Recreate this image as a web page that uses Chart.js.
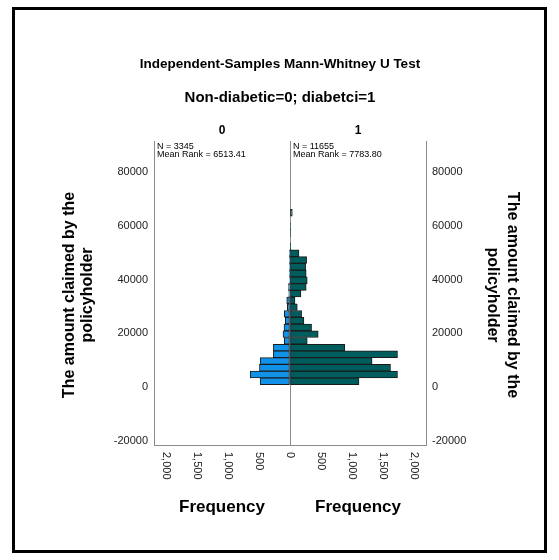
<!DOCTYPE html>
<html>
<head>
<meta charset="utf-8">
<script src="https://cdn.jsdelivr.net/npm/chart.js@4.4.1/dist/chart.umd.min.js"></script>
<style>
  html, body { margin: 0; padding: 0; background: #fff; }
  canvas { display: block; }
</style>
</head>
<body>
<canvas id="c" width="559" height="560"></canvas>
<script>
// Histogram bins of the claim amount (lower edges) and their width
const binStarts = [1000, 3500, 6000, 8500, 11000, 13500, 16000, 18500, 21000, 23500,
                   26000, 28500, 31000, 33500, 36000, 38500, 41000, 43500, 46000, 48500,
                   51000, 53500, 56000, 58500, 61000, 63500];
const binWidth = 2500;

// Frequencies per bin for each group
const freqNonDiabetic = [483, 644, 494, 483, 269, 269, 92, 113, 97, 76,
                         92, 43, 53, 20, 25, 8, 6, 7, 6, 5,
                         0, 0, 0, 0, 0, 0];
const freqDiabetic = [1116, 1739, 1626, 1328, 1739, 886, 279, 456, 349, 225,
                      188, 118, 81, 177, 262, 279, 262, 253, 269, 145,
                      14, 0, 8, 8, 0, 37];

// Group headers and summary statistics
const groupLabels = ['0', '1'];
const groupN = [3345, 11655];
const groupMeanRank = ['6513.41', '7783.80'];

// Axis ticks
const claimTicks = [-20000, 0, 20000, 40000, 60000, 80000];
const freqTicks = [0, 500, 1000, 1500, 2000];

const FONT = '"Liberation Sans", Arial, sans-serif';
const LINE = '#8a8a8a';
const TEXT = '#222';

const binCenters = binStarts.map(s => s + binWidth / 2);

const decorations = {
  id: 'decorations',
  afterDraw(chart) {
    const { ctx, chartArea: a, scales } = chart;
    const xs = scales.x;
    ctx.save();

    // Outer frame
    ctx.strokeStyle = '#000';
    ctx.lineWidth = 3;
    ctx.strokeRect(13.5, 8.5, 532, 543);

    // Titles
    ctx.fillStyle = '#000';
    ctx.textAlign = 'center';
    ctx.textBaseline = 'middle';
    ctx.font = 'bold 13.5px ' + FONT;
    ctx.fillText('Independent-Samples Mann-Whitney U Test', 280, 64);
    ctx.font = 'bold 15px ' + FONT;
    ctx.fillText('Non-diabetic=0; diabetci=1', 280, 98);

    // Panel headers
    const leftMid = xs.getPixelForValue(-1100);
    const rightMid = xs.getPixelForValue(1100);
    ctx.font = 'bold 12px ' + FONT;
    ctx.fillText(groupLabels[0], leftMid, 131);
    ctx.fillText(groupLabels[1], rightMid, 131);

    // N and mean rank inside each panel
    ctx.font = '9px ' + FONT;
    ctx.textAlign = 'left';
    ctx.textBaseline = 'top';
    ctx.fillStyle = '#000';
    const zeroX = xs.getPixelForValue(0);
    ctx.fillText('N = ' + groupN[0], a.left + 3, a.top + 1);
    ctx.fillText('Mean Rank = ' + groupMeanRank[0], a.left + 3, a.top + 9);
    ctx.fillText('N = ' + groupN[1], zeroX + 3, a.top + 1);
    ctx.fillText('Mean Rank = ' + groupMeanRank[1], zeroX + 3, a.top + 9);

    // Frequency tick labels, rotated to read downward
    ctx.font = '11px ' + FONT;
    ctx.fillStyle = TEXT;
    ctx.textAlign = 'left';
    ctx.textBaseline = 'middle';
    const drawTick = (v) => {
      const px = xs.getPixelForValue(v);
      ctx.save();
      ctx.translate(px, a.bottom + 7);
      ctx.rotate(Math.PI / 2);
      ctx.fillText(Math.abs(v).toLocaleString('en-US'), 0, 0);
      ctx.restore();
    };
    freqTicks.forEach(v => {
      if (v === 0) { drawTick(0); } else { drawTick(-v); drawTick(v); }
    });

    // Frequency axis titles
    ctx.fillStyle = '#000';
    ctx.font = 'bold 17px ' + FONT;
    ctx.textAlign = 'center';
    ctx.fillText('Frequency', leftMid, 507);
    ctx.fillText('Frequency', rightMid, 507);

    // Claim amount axis titles
    ctx.font = 'bold 16px ' + FONT;
    const midY = (a.top + a.bottom) / 2 + 2;
    ctx.save();
    ctx.translate(79, midY);
    ctx.rotate(-Math.PI / 2);
    ctx.fillText('The amount claimed by the', 0, -9);
    ctx.fillText('policyholder', 0, 9);
    ctx.restore();
    ctx.save();
    ctx.translate(502, midY);
    ctx.rotate(Math.PI / 2);
    ctx.fillText('The amount claimed by the', 0, -10);
    ctx.fillText('policyholder', 0, 10);
    ctx.restore();

    ctx.restore();
  }
};

const claimAxis = (position, width) => ({
  type: 'linear',
  position,
  offset: false,
  min: -21400,
  max: 91400,
  afterBuildTicks: s => { s.ticks = claimTicks.map(v => ({ value: v })); },
  afterFit: s => { s.width = width; },
  grid: { display: false, drawTicks: false, offset: false },
  border: { display: true, color: LINE, width: 1 },
  ticks: {
    padding: 6,
    color: TEXT,
    font: { family: FONT, size: 11 },
    callback: v => String(v)
  }
});

const barStyle = {
  borderColor: '#1b1b1b',
  borderWidth: 1,
  borderSkipped: false,
  grouped: false,
  barPercentage: 1,
  categoryPercentage: 1
};

new Chart(document.getElementById('c'), {
  type: 'bar',
  data: {
    datasets: [
      Object.assign({
        label: groupLabels[0],
        data: binCenters.map((y, i) => ({ y, x: -freqNonDiabetic[i] })),
        backgroundColor: '#1192e8',
        yAxisID: 'y'
      }, barStyle),
      Object.assign({
        label: groupLabels[1],
        data: binCenters.map((y, i) => ({ y, x: freqDiabetic[i] })),
        backgroundColor: '#005d5d',
        yAxisID: 'y'
      }, barStyle)
    ]
  },
  options: {
    indexAxis: 'y',
    responsive: false,
    devicePixelRatio: 1,
    animation: false,
    layout: { padding: { left: 14, right: 13, top: 141, bottom: 10 } },
    plugins: { legend: { display: false }, tooltip: { enabled: false } },
    scales: {
      x: {
        type: 'linear',
        min: -2200,
        max: 2200,
        afterBuildTicks: s => { s.ticks = [{ value: 0 }]; },
        afterFit: s => { s.height = 105; },
        grid: { display: true, color: LINE, lineWidth: 1, drawTicks: false },
        border: { display: true, color: LINE, width: 1 },
        ticks: { display: false }
      },
      y: claimAxis('left', 140),
      y2: claimAxis('right', 120)
    }
  },
  plugins: [decorations]
});
</script>
</body>
</html>
